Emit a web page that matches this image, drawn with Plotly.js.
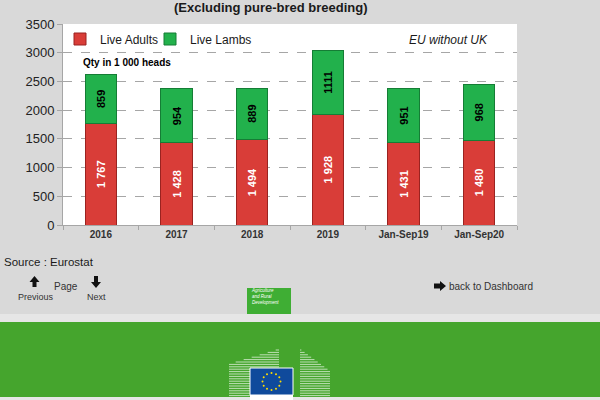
<!DOCTYPE html>
<html>
<head>
<meta charset="utf-8">
<script src="https://cdn.plot.ly/plotly-3.0.1.min.js"></script>
<style>html,body{margin:0;padding:0;background:#d9d9d9;}#chart{width:600px;height:400px;}</style>
</head>
<body>
<div id="chart"></div>
<script>
// ---- data ----
const categories = ['2016', '2017', '2018', '2019', 'Jan-Sep19', 'Jan-Sep20'];
const liveAdults = [1767, 1428, 1494, 1928, 1431, 1480];
const liveLambs = [859, 954, 889, 1111, 951, 968];
const seriesNames = ['Live Adults', 'Live Lambs'];
const yTicks = [0, 500, 1000, 1500, 2000, 2500, 3000, 3500];

// ---- layout helpers (pixel -> paper) ----
const L = 63, R = 517, T = 24, B = 225;
const X = px => (px - L) / (R - L);
const Y = py => (B - py) / (B - T);
const FONT = 'Liberation Sans, Arial, sans-serif';

const traces = [
  {
    type: 'bar', name: seriesNames[0], x: categories, y: liveAdults, legend: 'legend',
    marker: {color: '#d93d38', line: {color: '#9a2320', width: 1}},
    texttemplate: '%{y:,}', textposition: 'inside', insidetextanchor: 'middle',
    textangle: -90, constraintext: 'none',
    textfont: {family: FONT, size: 11, color: '#ffffff', weight: 'bold'},
    hoverinfo: 'skip'
  },
  {
    type: 'bar', name: seriesNames[1], x: categories, y: liveLambs, legend: 'legend2',
    marker: {color: '#22b14c', line: {color: '#157d35', width: 1}},
    texttemplate: '%{y:d}', textposition: 'inside', insidetextanchor: 'middle',
    textangle: -90, constraintext: 'none',
    textfont: {family: FONT, size: 11, color: '#000000', weight: 'bold'},
    hoverinfo: 'skip'
  }
];

const shapes = [];
const rect = (x0, y0, x1, y1, fill, line) => shapes.push({
  type: 'rect', xref: 'paper', yref: 'paper', x0: X(x0), x1: X(x1), y0: Y(y0), y1: Y(y1),
  fillcolor: fill, line: line || {width: 0}, layer: 'above'
});
const seg = (x0, y0, x1, y1, color, w) => shapes.push({
  type: 'line', xref: 'paper', yref: 'paper', x0: X(x0), x1: X(x1), y0: Y(y0), y1: Y(y1),
  line: {color: color, width: w || 1}, layer: 'above'
});
const poly = (pts, fill) => shapes.push({
  type: 'path', xref: 'paper', yref: 'paper', layer: 'above',
  path: 'M' + pts.map(p => X(p[0]) + ',' + Y(p[1])).join(' L') + ' Z',
  fillcolor: fill, line: {width: 0}
});

// page bands
rect(0, 314, 600, 322, '#e6e6e6');
rect(0, 322, 600, 397, '#45a52d');
rect(0, 397, 600, 400, '#e6e6e6');
rect(247, 288, 291, 314, '#3fae34');

// arrows
poly([[34.5, 276], [29.5, 282], [32.5, 282], [32.5, 287], [36.5, 287], [36.5, 282], [39.5, 282]], '#111');
poly([[96, 288], [91, 282], [94, 282], [94, 276], [98, 276], [98, 282], [101, 282]], '#111');
poly([[446, 286], [440, 281], [440, 283.5], [434, 283.5], [434, 288.5], [440, 288.5], [440, 291]], '#111');

// EU logo: buildings
for (let y = 350; y <= 396; y += 2.4) {
  let xl = y >= 364 ? 229 : 229 + (364 - y) / 15 * 50;
  seg(xl, y, 279, y, 'rgba(255,255,255,0.65)', 1);
  let xr = Math.min(330, 300 + (y - 349) / 22 * 30);
  if (xr > 301) seg(300, y, xr, y, 'rgba(255,255,255,0.65)', 1);
}
rect(250, 368, 293, 395, '#0f4a9c', {color: '#ffffff', width: 1});
rect(250, 395, 293, 400, '#ffffff');
for (let k = 0; k < 12; k++) {
  const a = k * Math.PI / 6;
  const cx = 271.5 + 9 * Math.cos(a), cy = 381.5 + 8.5 * Math.sin(a);
  shapes.push({type: 'circle', xref: 'paper', yref: 'paper', layer: 'above',
    x0: X(cx - 1), x1: X(cx + 1), y0: Y(cy - 1), y1: Y(cy + 1),
    fillcolor: '#ffdd00', line: {width: 0}});
}

const ann = (text, x, y, opts) => Object.assign({
  text: text, xref: 'paper', yref: 'paper', x: X(x), y: Y(y),
  showarrow: false, xanchor: 'left', yanchor: 'middle',
  font: {family: FONT, size: 12, color: '#1a1a1a'}
}, opts || {});

const annotations = [
  ann('(Excluding pure-bred breeding)', 271, 8, {xanchor: 'center', font: {family: FONT, size: 13, color: '#1a1a1a', weight: 'bold'}}),
  ann('Qty in 1 000 heads', 81, 62, {font: {family: FONT, size: 10, color: '#000', weight: 'bold'}}),
  ann('EU without UK', 407, 40, {font: {family: FONT, size: 12, color: '#1a1a1a', style: 'italic'}}),
  ann('Source : Eurostat', 2, 262, {font: {family: FONT, size: 11.5, color: '#1a1a1a'}}),
  ann('Page', 65.5, 286, {xanchor: 'center', font: {family: FONT, size: 10, color: '#333'}}),
  ann('Previous', 35.5, 297, {xanchor: 'center', font: {family: FONT, size: 9, color: '#333'}}),
  ann('Next', 96, 297, {xanchor: 'center', font: {family: FONT, size: 9, color: '#333'}}),
  ann('back to Dashboard', 447, 286, {font: {family: FONT, size: 10, color: '#333'}}),
  ann('<i>Agriculture<br>and Rural<br>Development</i>', 249, 296, {align: 'left', font: {family: FONT, size: 4.5, color: '#ffffff'}})
];

const legendBase = {orientation: 'h', y: Y(39), xanchor: 'left', yanchor: 'middle',
  bgcolor: 'rgba(0,0,0,0)', font: {family: FONT, size: 12, color: '#1a1a1a'}, itemwidth: 30};

const layout = {
  width: 600, height: 400,
  margin: {l: L, r: 600 - R, t: T, b: 400 - B, pad: 0},
  paper_bgcolor: '#d9d9d9', plot_bgcolor: '#ffffff',
  barmode: 'stack', bargap: 0.59,
  separators: '. ',
  showlegend: true,
  legend: Object.assign({}, legendBase, {x: X(60)}),
  legend2: Object.assign({}, legendBase, {x: X(150)}),
  xaxis: {type: 'category', showgrid: false, showline: true, linecolor: '#a6a6a6', linewidth: 1,
    ticks: 'outside', tickson: 'boundaries', ticklen: 4, tickcolor: '#a6a6a6',
    tickfont: {family: FONT, size: 10, color: '#333', weight: 'bold'}, fixedrange: true},
  yaxis: {range: [0, 3500], tickvals: yTicks, showgrid: true, gridcolor: '#a6a6a6', griddash: 'dash',
    gridwidth: 1, showline: true, linecolor: '#a6a6a6', linewidth: 1, zeroline: false,
    ticks: 'outside', ticklen: 5, tickcolor: '#a6a6a6',
    tickfont: {family: FONT, size: 13, color: '#222'}, fixedrange: true},
  shapes: shapes,
  annotations: annotations
};

Plotly.newPlot('chart', traces, layout, {staticPlot: true, displayModeBar: false});
</script>
</body>
</html>
